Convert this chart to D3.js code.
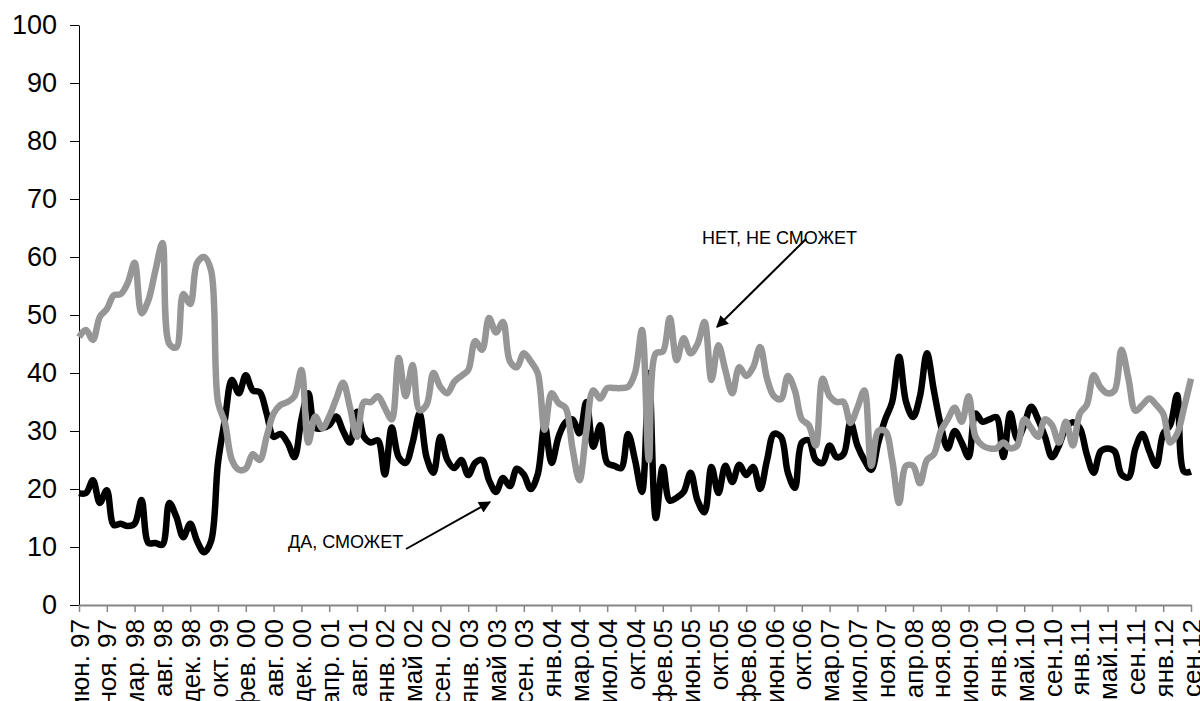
<!DOCTYPE html>
<html>
<head>
<meta charset="utf-8">
<script src="https://cdn.jsdelivr.net/npm/d3@7"></script>
<style>
  body { margin: 0; background: #fff; }
  svg { display: block; font-family: "Liberation Sans", Arial, sans-serif; }
</style>
</head>
<body>
<div id="chart"></div>
<script>
// tick labels, one every 4 survey points
var tickLabels = ["июн. 97","ноя. 97","мар. 98","авг. 98","дек. 98","окт. 99","фев. 00","авг. 00","дек. 00","апр. 01",
  "авг. 01","янв. 02","май 02","сен. 02","янв. 03","май 03","сен. 03","янв.04","мар.04","июл.04",
  "окт.04","фев.05","июн.05","окт.05","фев.06","июн.06","окт.06","мар.07","июл.07","ноя.07",
  "апр.08","ноя.08","июн.09","янв.10","май.10","сен.10","янв.11","май.11","сен.11","янв.12","сен.12"];
var pointsPerLabel = 4;

// "ДА, СМОЖЕТ"
var yesValues = [19.3,19.3,21.5,17.6,19.8,13.8,14,13.6,14,18.1,
  10.7,10.7,10.4,17.6,15.2,11.7,14,11,9.1,11,
  24.5,32,38.8,36.5,39.6,37,36.7,33,29,29.5,
  28,25.5,32,36.5,30.5,30.5,31,32.5,30,28,
  33.3,29,28,28.4,22.5,30.6,25.5,24.5,28,33,
  25.5,22.8,29,25,23.6,25,22.4,24.5,25,21.5,
  19.5,21.9,20.5,23.5,22.5,20,22.5,31,24.5,29,
  31.5,32,29.6,35,27.3,31,24.5,24,23.6,29.5,
  25,19.5,40,15,23.8,18,18.5,19.5,22.8,18,
  16,23.8,19.3,24,21.2,24.2,22.4,23.8,20,25,
  29.5,29,22.8,20.2,28,28.4,25,24.5,27.5,25.5,
  26,31.5,27.5,25,23.3,28,32,35,42.8,35,
  32.4,36,43.4,37,31,27,30,28,25.5,33,
  31.6,32,32.4,25.5,33,28.6,31,34.2,32,29,
  25.5,27.5,30.5,31.5,30.5,26,22.8,26.5,27,26.5,
  22.5,22,27,29.5,26.5,24,29.5,31,36.2,23,23];

// "НЕТ, НЕ СМОЖЕТ"
var noValues = [46.2,47.4,45.7,49.7,51,53.4,53.6,55.5,59,50.3,
  52.6,57.7,62.4,45,44.4,53.6,51.9,59,60,57.7,
  35,31.4,25,23.3,23.5,26,25,29,33,34.5,
  35,36,40.5,28,32.5,30.5,32.5,35.5,38.3,34,
  29,35,35,36,34,32,42.6,36,41.4,33.6,
  34.5,40,37.6,36.5,38.5,39.5,40.5,45.5,44,49.5,
  47,48.8,42,41,43.4,42,40,30.2,36.5,34.8,
  34,27,21.5,30,37,35.6,37.4,37.4,37.4,37.6,
  40,47.4,25,43.4,43.7,49.5,42.2,46,43.4,45,
  48.8,38.8,44.8,40.5,36.5,41,39.5,41,44.5,39,
  36,35.5,39.5,37,32,31,27.5,39,36,35,
  35,31.4,34,37,24,30,30,25,17.6,24,
  24,21,25,26,30,32,34,31.6,36,29,
  27.5,27,27,28,27,27.5,32,30.5,29,32,
  31,28,31.6,27.5,33,34.5,39.6,37.5,36.5,37,
  44,39,33.5,34.5,35.6,34.5,33,28,29.5,34,39];

var yTicks = [0,10,20,30,40,50,60,70,80,90,100];

var W = 1200, H = 701;
var margin = {top: 25, left: 79, right: 9, bottom: 96};

var svg = d3.select("#chart").append("svg")
  .attr("width", W)
  .attr("height", H);

var x = d3.scaleLinear()
  .domain([0, yesValues.length - 1])
  .range([margin.left, W - margin.right]);

var y = d3.scaleLinear()
  .domain([0, 100])
  .range([H - margin.bottom, margin.top]);

// y axis
var yAxis = d3.axisLeft(y)
  .tickValues(yTicks)
  .tickSize(9)
  .tickSizeOuter(0)
  .tickPadding(13);

var gy = svg.append("g")
  .attr("transform", "translate(" + margin.left + ",0)")
  .call(yAxis);
gy.selectAll("text").style("font-size", "27px").attr("fill", "#000");
gy.selectAll("line, path").attr("stroke", "#000").attr("stroke-width", 1);

// x axis
var xAxis = d3.axisBottom(x)
  .tickValues(tickLabels.map(function(d, i) { return i * pointsPerLabel; }))
  .tickFormat(function(d) { return tickLabels[d / pointsPerLabel]; })
  .tickSize(7)
  .tickSizeOuter(0);

var gx = svg.append("g")
  .attr("transform", "translate(0," + y(0) + ")")
  .call(xAxis);
gx.select(".domain").attr("stroke", "#868686").attr("stroke-width", 2);
gx.selectAll(".tick line").attr("stroke", "#868686").attr("stroke-width", 1.5);
gx.selectAll("text")
  .style("font-size", "26px")
  .attr("fill", "#000")
  .style("text-anchor", "end")
  .attr("transform", "rotate(-90)")
  .attr("x", -14)
  .attr("y", 0)
  .attr("dy", "0.35em");

// lines
var line = d3.line()
  .x(function(d, i) { return x(i); })
  .y(function(d) { return y(d); })
  .curve(d3.curveCatmullRom.alpha(0.5));

svg.append("path")
  .datum(yesValues)
  .attr("fill", "none")
  .attr("stroke", "#000")
  .attr("stroke-width", 6.5)
  .attr("stroke-linejoin", "round")
  .attr("d", line);

svg.append("path")
  .datum(noValues)
  .attr("fill", "none")
  .attr("stroke", "#969696")
  .attr("stroke-width", 6.5)
  .attr("stroke-linejoin", "round")
  .attr("d", line);

// annotations
svg.append("defs").append("marker")
  .attr("id", "arrow")
  .attr("viewBox", "0 0 10 10")
  .attr("refX", 9)
  .attr("refY", 5)
  .attr("markerWidth", 7)
  .attr("markerHeight", 6)
  .attr("markerUnits", "strokeWidth")
  .attr("orient", "auto")
  .append("path")
  .attr("d", "M0,0 L10,5 L0,10 Z")
  .attr("fill", "#000");

svg.append("text")
  .attr("x", 702)
  .attr("y", 244)
  .style("font-size", "18px")
  .text("НЕТ, НЕ СМОЖЕТ");

svg.append("line")
  .attr("x1", 806).attr("y1", 239)
  .attr("x2", 717).attr("y2", 327)
  .attr("stroke", "#000")
  .attr("stroke-width", 2)
  .attr("marker-end", "url(#arrow)");

svg.append("text")
  .attr("x", 288)
  .attr("y", 548)
  .style("font-size", "18px")
  .text("ДА, СМОЖЕТ");

svg.append("line")
  .attr("x1", 406).attr("y1", 549)
  .attr("x2", 490).attr("y2", 502)
  .attr("stroke", "#000")
  .attr("stroke-width", 2)
  .attr("marker-end", "url(#arrow)");
</script>
</body>
</html>
